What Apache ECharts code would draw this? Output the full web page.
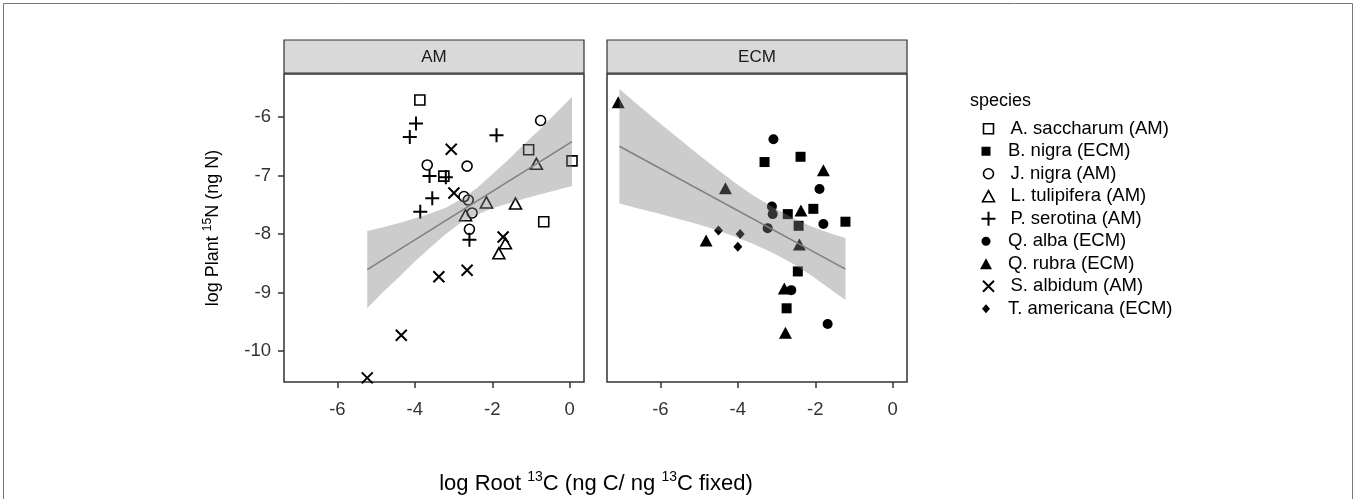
<!DOCTYPE html>
<html>
<head>
<meta charset="utf-8">
<script src="https://cdn.jsdelivr.net/npm/echarts@6/dist/echarts.min.js"></script>
<style>
html,body{margin:0;padding:0;background:#fff;}
#chart{width:1357px;height:499px;}
</style>
</head>
<body>
<div id="chart"></div>
<script>
// ---------------- DATA ----------------
const panelNames = ['AM', 'ECM'];
const speciesNames = [
  'A. saccharum (AM)', 'B. nigra (ECM)', 'J. nigra (AM)', 'L. tulipifera (AM)',
  'P. serotina (AM)', 'Q. alba (ECM)', 'Q. rubra (ECM)', 'S. albidum (AM)', 'T. americana (ECM)'
];
const speciesPanel = [0, 1, 0, 0, 0, 1, 1, 0, 1];

const aSaccharum = [[-3.87,-5.71],[-3.25,-7.01],[-1.06,-6.56],[0.06,-6.75],[-0.67,-7.79]];
const bNigra = [[-3.31,-6.77],[-2.38,-6.68],[-2.71,-7.66],[-2.05,-7.57],[-1.22,-7.79],[-2.43,-7.86],[-2.45,-8.64],[-2.74,-9.27]];
const jNigra = [[-3.68,-6.82],[-2.65,-6.84],[-0.75,-6.06],[-2.73,-7.36],[-2.62,-7.42],[-2.52,-7.64],[-2.59,-7.92]];
const lTulipifera = [[-0.86,-6.80],[-2.15,-7.46],[-1.40,-7.48],[-2.69,-7.68],[-1.66,-8.16],[-1.83,-8.33]];
const pSerotina = [[-3.97,-6.11],[-4.13,-6.34],[-3.62,-7.01],[-3.20,-7.03],[-3.55,-7.39],[-3.86,-7.62],[-1.89,-6.31],[-2.59,-8.10]];
const qAlba = [[-3.08,-6.38],[-1.89,-7.23],[-3.12,-7.53],[-3.10,-7.66],[-1.79,-7.83],[-3.23,-7.90],[-2.62,-8.96],[-1.68,-9.54]];
const qRubra = [[-7.09,-5.75],[-4.32,-7.22],[-4.82,-8.11],[-1.79,-6.91],[-2.37,-7.60],[-2.41,-8.18],[-2.80,-8.93],[-2.77,-9.69]];
const sAlbidum = [[-3.06,-6.55],[-2.99,-7.30],[-1.72,-8.05],[-3.38,-8.73],[-2.65,-8.62],[-4.35,-9.73],[-5.23,-10.46]];
const tAmericana = [[-4.50,-7.94],[-3.94,-8.00],[-4.00,-8.22]];
const speciesData = [aSaccharum, bNigra, jNigra, lTulipifera, pSerotina, qAlba, qRubra, sAlbidum, tAmericana];

// fitted lines (ends) and confidence bands
const amFitX = [-5.23, 0.06];
const amFitY = [-8.61, -6.42];
const amBandX  = [-5.23, -4.8, -4.4, -4.0, -3.6, -3.2, -2.8, -2.4, -2.0, -1.6, -1.2, -0.8, -0.4, 0.06];
const amBandHi = [-7.95, -7.88, -7.81, -7.73, -7.65, -7.55, -7.40, -7.22, -6.98, -6.74, -6.48, -6.23, -5.96, -5.66];
const amBandLo = [-9.27, -8.98, -8.73, -8.47, -8.23, -8.00, -7.80, -7.67, -7.56, -7.48, -7.40, -7.33, -7.26, -7.18];

const ecmFitX = [-7.06, -1.22];
const ecmFitY = [-6.50, -8.60];
const ecmBandX  = [-7.06, -6.6, -6.1, -5.6, -5.1, -4.6, -4.1, -3.6, -3.1, -2.6, -2.1, -1.6, -1.22];
const ecmBandHi = [-5.52, -5.78, -6.06, -6.33, -6.60, -6.86, -7.11, -7.34, -7.54, -7.72, -7.87, -7.99, -8.07];
const ecmBandLo = [-7.48, -7.56, -7.64, -7.73, -7.82, -7.92, -8.04, -8.17, -8.32, -8.50, -8.71, -8.95, -9.13];

const xTicks = [-6, -4, -2, 0];
const yTicks = [-10, -9, -8, -7, -6];

// ---------------- STYLE ----------------
const FONT = '"Liberation Sans", Arial, Helvetica, sans-serif';
const plusPath = 'path://M0,6L12,6M6,0L6,12';
const crossPath = 'path://M0,0L10,10M10,0L0,10';
const symbolStyles = [
  {symbol: 'rect', size: 10, fill: 'none', bw: 1.6, leg: [10, 10]},
  {symbol: 'rect', size: 10, fill: '#000', bw: 0, leg: [9, 9]},
  {symbol: 'circle', size: 10, fill: 'none', bw: 1.6, leg: [10, 10]},
  {symbol: 'triangle', size: [12, 11], fill: 'none', bw: 1.6, leg: [12, 11]},
  {symbol: plusPath, size: 14, fill: 'none', bw: 2, leg: [14, 14]},
  {symbol: 'circle', size: 10, fill: '#000', bw: 0, leg: [9, 9]},
  {symbol: 'triangle', size: [13, 12], fill: '#000', bw: 0, leg: [12, 11]},
  {symbol: crossPath, size: 11, fill: 'none', bw: 2, leg: [11, 11]},
  {symbol: 'diamond', size: [9, 10], fill: '#000', bw: 0, leg: [8, 9]}
];

const grids = [
  {left: 284, top: 74, width: 300, height: 308},
  {left: 607, top: 74, width: 300, height: 308}
];
const xMin = -7.38, xMax = 0.37, yMin = -10.53, yMax = -5.265;

function bandSeries(gi, xs, los, his) {
  return {
    type: 'custom', name: 'band' + gi, xAxisIndex: gi, yAxisIndex: gi, silent: true, z: 3,
    data: xs.map((x, i) => [x, los[i], his[i]]),
    encode: {x: 0, y: [1, 2]},
    renderItem: function (params, api) {
      if (params.dataIndex !== 0) return null;
      const pts = [];
      for (let i = 0; i < xs.length; i++) pts.push(api.coord([xs[i], his[i]]));
      for (let i = xs.length - 1; i >= 0; i--) pts.push(api.coord([xs[i], los[i]]));
      return {type: 'polygon', shape: {points: pts}, style: {fill: 'rgba(128,128,128,0.4)'}};
    }
  };
}
function fitSeries(gi, xs, ys) {
  return {
    type: 'line', name: 'fit' + gi, xAxisIndex: gi, yAxisIndex: gi, silent: true, z: 4,
    data: xs.map((x, i) => [x, ys[i]]), symbol: 'none',
    lineStyle: {color: '#808080', width: 1.6}
  };
}

const series = speciesNames.map((name, i) => {
  const s = symbolStyles[i];
  return {
    type: 'scatter', name: name, xAxisIndex: speciesPanel[i], yAxisIndex: speciesPanel[i], z: 2,
    data: speciesData[i], symbol: s.symbol, symbolSize: s.size,
    itemStyle: {color: s.fill, borderColor: '#000', borderWidth: s.bw, opacity: 1}
  };
});
series.push(bandSeries(0, amBandX, amBandLo, amBandHi));
series.push(bandSeries(1, ecmBandX, ecmBandLo, ecmBandHi));
series.push(fitSeries(0, amFitX, amFitY));
series.push(fitSeries(1, ecmFitX, ecmFitY));

const LEG_FS = 18.5;
const legends = speciesNames.map((name, i) => {
  const s = symbolStyles[i];
  const w = s.leg[0], h = s.leg[1];
  const center = 128.5 + i * 22.5;
  return {
    data: [name], orient: 'vertical', padding: 0, selectedMode: false,
    left: 986 - w / 2, top: center - Math.max(h, LEG_FS) / 2,
    itemWidth: w, itemHeight: h,
    itemStyle: {borderWidth: s.bw, borderColor: '#000'},
    textStyle: {fontSize: LEG_FS, color: '#000', fontFamily: FONT, lineHeight: LEG_FS, padding: [0, 0, 0, 17 - w / 2]}
  };
});

const TICK_FS = 18.5;
const xAxes = grids.map((g, gi) => ({
  type: 'value', gridIndex: gi, min: xMin, max: xMax,
  splitLine: {show: false}, axisLine: {show: false, onZero: false},
  axisTick: {show: true, length: 6, customValues: xTicks, lineStyle: {color: '#333', width: 1.5}},
  axisLabel: {show: true, customValues: xTicks, fontSize: TICK_FS, color: '#333', fontFamily: FONT, margin: 18}
}));
const yAxes = grids.map((g, gi) => ({
  type: 'value', gridIndex: gi, min: yMin, max: yMax,
  splitLine: {show: false}, axisLine: {show: false, onZero: false},
  axisTick: {show: gi === 0, length: 6, customValues: yTicks, lineStyle: {color: '#333', width: 1.5}},
  axisLabel: {show: gi === 0, customValues: yTicks, fontSize: TICK_FS, color: '#333', fontFamily: FONT, margin: 13}
}));

const graphics = [
  {type: 'rect', shape: {x: 3.5, y: 3.5, width: 1349, height: 600}, style: {fill: 'none', stroke: '#777', lineWidth: 1}, silent: true}
];
grids.forEach((g, gi) => {
  graphics.push({type: 'rect', shape: {x: g.left, y: 40, width: g.width, height: 33}, style: {fill: '#d9d9d9', stroke: '#333', lineWidth: 1.2}, silent: true});
  graphics.push({type: 'text', x: g.left + g.width / 2, y: 57, style: {text: panelNames[gi], fontSize: 17, fontFamily: FONT, fill: '#1a1a1a', align: 'center', verticalAlign: 'middle'}, silent: true});
});
graphics.push({
  type: 'text', x: 596, y: 484, silent: true,
  style: {
    text: '{n|log Root }{s|13}{n|C (ng C/ ng }{s|13}{n|C fixed)}', align: 'center', verticalAlign: 'middle',
    rich: {
      n: {fontSize: 22, fontFamily: FONT, fill: '#000', lineHeight: 27},
      s: {fontSize: 14, fontFamily: FONT, fill: '#000', verticalAlign: 'top', lineHeight: 14}
    }
  }
});
graphics.push({
  type: 'text', x: 213, y: 228, rotation: Math.PI / 2, silent: true,
  style: {
    text: '{n|log Plant }{s|15}{n|N (ng N)}', align: 'center', verticalAlign: 'middle',
    rich: {
      n: {fontSize: 18, fontFamily: FONT, fill: '#000', lineHeight: 23},
      s: {fontSize: 12, fontFamily: FONT, fill: '#000', verticalAlign: 'top', lineHeight: 12}
    }
  }
});
graphics.push({type: 'text', x: 970, y: 101, silent: true, style: {text: 'species', fontSize: 18, fontFamily: FONT, fill: '#000', align: 'left', verticalAlign: 'middle'}});

const chart = echarts.init(document.getElementById('chart'), null, {renderer: 'canvas'});
chart.setOption({
  animation: false,
  backgroundColor: '#fff',
  grid: grids.map(g => Object.assign({show: true, borderColor: '#333', borderWidth: 1.5, backgroundColor: '#fff', containLabel: false}, g)),
  xAxis: xAxes,
  yAxis: yAxes,
  legend: legends,
  series: series,
  graphic: graphics
});
</script>
</body>
</html>
